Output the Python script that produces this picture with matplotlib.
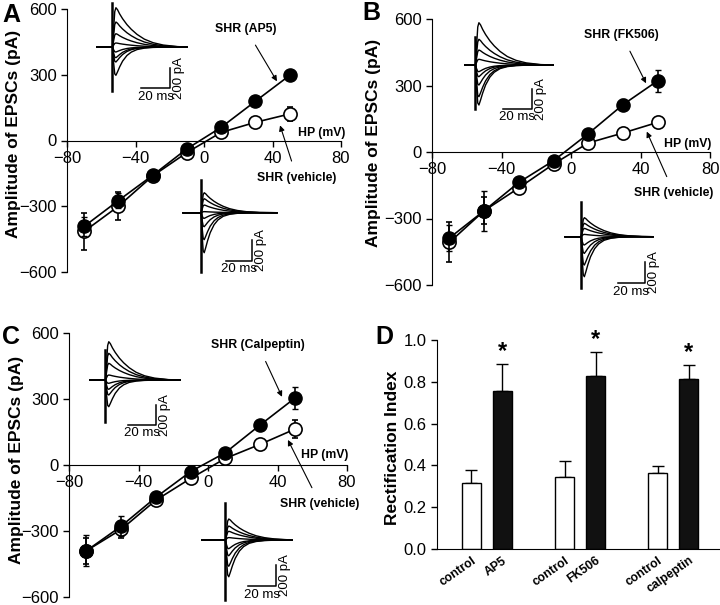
import matplotlib
matplotlib.use('Agg')
import matplotlib.pyplot as plt
import numpy as np

plt.rcParams['font.family'] = ['Liberation Sans', 'DejaVu Sans']

W, H = 720, 605

# holding potentials (mV)
hp = [-70, -50, -30, -10, 10, 30, 50]

# panel A: SHR (AP5) filled, SHR (vehicle) open
a_drug = [-392, -274, -159, -38, 60, 179, 297]
a_drug_err = [45, 35, 20, 15, 12, 12, 12]
a_veh = [-415, -300, -162, -55, 37, 83, 121]
a_veh_err = [85, 65, 22, 15, 12, 15, 30]

# panel B: SHR (FK506) / SHR (vehicle)
b_drug = [-388, -265, -137, -39, 83, 214, 322]
b_drug_err = [60, 90, 20, 15, 15, 25, 50]
b_veh = [-408, -265, -162, -54, 41, 86, 134]
b_veh_err = [90, 60, 25, 15, 12, 12, 15]

# panel C: SHR (Calpeptin) / SHR (vehicle)
c_drug = [-390, -278, -147, -30, 56, 182, 304]
c_drug_err = [70, 45, 20, 12, 12, 15, 50]
c_veh = [-390, -293, -160, -61, 30, 94, 163]
c_veh_err = [60, 40, 20, 12, 10, 12, 40]

# panel D: rectification index
d_labels = ['control', 'AP5', 'control', 'FK506', 'control', 'calpeptin']
d_values = [0.317, 0.756, 0.343, 0.828, 0.365, 0.812]
d_err = [0.061, 0.129, 0.078, 0.116, 0.034, 0.068]
d_star = [False, True, False, True, False, True]

# EPSC trace template (ms, normalised amplitude)
tmpl_t = [0, 0.8, 1.6, 2.4, 3.5, 5, 7, 10, 13, 17, 22, 28, 35, 45]
tmpl_out = [0, 0.45, 0.9, 1.0, 0.95, 0.84, 0.72, 0.57, 0.45, 0.32, 0.2, 0.11, 0.05, 0.01]
tmpl_in = [0, 0.55, 0.95, 1.0, 0.88, 0.7, 0.5, 0.3, 0.18, 0.09, 0.04, 0.015, 0.005, 0]

# trace peaks (pA) for each inset
pk_a_top = [393, 250, 133, 40, -50, -107, -150, -283]
pk_a_bot = [190, 133, 73, 10, -54, -133, -257, -381]
pk_b_top = [423, 257, 150, 57, -67, -117, -200, -317, -400]
pk_b_bot = [181, 127, 79, 22, -79, -159, -270, -381]
pk_c_top = [383, 267, 167, 50, -33, -93, -150, -267]
pk_c_bot = [200, 133, 83, 23, -83, -150, -250, -350]

# stimulus artifact extent (pA)
art_a_top = [440, -440]
art_a_bot = [311, -565]
art_b_top = [280, -440]
art_b_bot = [333, -486]
art_c_top = [300, -420]
art_c_bot = [350, -570]


def px_rect(l, t, r, b):
    return [l / W, 1 - b / H, (r - l) / W, (b - t) / H]


fig = plt.figure(figsize=(W / 100, H / 100), dpi=100)


def iv_panel(rect, drug, drug_err, veh, veh_err, drug_name, notes, ylab_xy):
    ax = fig.add_axes(rect)
    ax.errorbar(hp, veh, yerr=veh_err, fmt='-o', color='k', mfc='white', mec='k',
                ms=9.5, mew=1.2, lw=1.2, capsize=2.5, elinewidth=1.2, zorder=2)
    ax.errorbar(hp, drug, yerr=drug_err, fmt='-o', color='k', mfc='k', mec='k',
                ms=9.5, lw=1.2, capsize=2.5, elinewidth=1.2, zorder=3)
    ax.set_xlim(-80, 80)
    ax.set_ylim(-600, 600)
    ax.spines['top'].set_visible(False)
    ax.spines['right'].set_visible(False)
    ax.spines['bottom'].set_position(('data', 0))
    ax.set_xticks([-80, -40, 0, 40, 80])
    ax.set_yticks([-600, -300, 0, 300, 600])
    ax.tick_params(labelsize=12, length=4, width=1)
    ax.set_ylabel('Amplitude of EPSCs (pA)', fontsize=12.5, fontweight='bold')
    ax.yaxis.set_label_coords(*ylab_xy)
    for txt, xy, xyt in [(drug_name, notes[0], notes[1]), ('SHR (vehicle)', notes[2], notes[3])]:
        ax.annotate(txt, xy=xy, xytext=xyt, ha='center', va='center', fontsize=8.8,
                    fontweight='bold',
                    arrowprops=dict(arrowstyle='-|>', color='k', lw=0.8,
                                    mutation_scale=8, shrinkA=6, shrinkB=0))
    ax.text(notes[4][0], notes[4][1], 'HP (mV)', ha='center', va='center',
            fontsize=8.8, fontweight='bold')
    return ax


def inset(x_art, y_base, ms_px, pa_px, t_lim, peaks, art, bar_t0, bar_a0):
    t0, t1, a0, a1 = -20, 65, -650, 650
    ax = fig.add_axes(px_rect(x_art + t0 * ms_px, y_base - a1 * pa_px,
                              x_art + t1 * ms_px, y_base - a0 * pa_px))
    ax.set_xlim(t0, t1)
    ax.set_ylim(a0, a1)
    ax.axis('off')
    for p in peaks:
        shape = tmpl_out if p > 0 else tmpl_in
        t = [t_lim[0]] + [v + 0.3 for v in tmpl_t] + [t_lim[1]]
        y = [0] + [p * s for s in shape] + [0]
        ax.plot(t, y, color='k', lw=1.0, clip_on=False)
    ax.plot([0.3, 0.3], art, color='k', lw=1.8, clip_on=False)
    # scale bars 20 ms / 200 pA
    ax.plot([bar_t0, bar_t0 + 20, bar_t0 + 20], [bar_a0, bar_a0, bar_a0 + 200],
            color='k', lw=1.1, clip_on=False)
    ax.text(bar_t0 + 10, bar_a0 - 25, '20 ms', ha='center', va='top', fontsize=9.5)
    ax.text(bar_t0 + 22, bar_a0 + 100, '200 pA', ha='left', va='center',
            rotation=90, fontsize=9.5)
    return ax


# panel A
iv_panel(px_rect(67, 9, 341, 272), a_drug, a_drug_err, a_veh, a_veh_err, 'SHR (AP5)',
         [(42.6, 270), (24.5, 508), (44.4, 69), (54.3, -170), (69, 32)], (-0.168, 0.525))
inset(112, 47, 1.45, 0.1, (-10.3, 51.7), pk_a_top, art_a_top, 20, -410)
inset(200.7, 212.7, 1.3, 0.105, (-13.6, 58.7), pk_a_bot, art_a_bot, 19.5, -457)

# panel B
iv_panel(px_rect(432, 19, 710, 285), b_drug, b_drug_err, b_veh, b_veh_err, 'SHR (FK506)',
         [(43.2, 310), (29.2, 528), (43.6, 92), (59.3, -185), (67.3, 36)], (-0.183, 0.535))
inset(475, 65, 1.45, 0.1, (-6.9, 53.8), pk_b_top, art_b_top, 19.3, -440)
inset(580.7, 236.7, 1.35, 0.105, (-11.6, 53.6), pk_b_bot, art_b_bot, 27.6, -441)

# panel C
iv_panel(px_rect(69, 333, 347, 597), c_drug, c_drug_err, c_veh, c_veh_err, 'SHR (Calpeptin)',
         [(42.6, 310), (28.8, 545), (46, 114), (64.5, -177), (67.3, 45)], (-0.162, 0.52))
inset(105, 380, 1.4, 0.1, (-10.7, 53.6), pk_c_top, art_c_top, 16.4, -450)
inset(225, 540, 1.4, 0.105, (-16.4, 47.9), pk_c_bot, art_c_bot, 16.4, -438)

# panel D
axd = fig.add_axes(px_rect(437, 340, 719, 549))
xpos = [0, 1, 3, 4, 6, 7]
colors = ['white', '#111111'] * 3
axd.bar(xpos, d_values, width=0.62, color=colors, edgecolor='k', lw=1.0, zorder=2)
axd.errorbar(xpos, d_values, yerr=[[0] * 6, d_err], fmt='none', ecolor='k',
             elinewidth=1.0, capsize=4, capthick=1.0, zorder=1)
for x, v, e, s in zip(xpos, d_values, d_err, d_star):
    if s:
        axd.text(x, v + e + 0.005, '*', ha='center', va='bottom', fontsize=17,
                 fontweight='bold')
axd.set_xlim(-1.11, 7.98)
axd.set_ylim(0, 1.0)
axd.set_yticks([0, 0.2, 0.4, 0.6, 0.8, 1.0])
axd.set_yticklabels(['%.1f' % v for v in [0, 0.2, 0.4, 0.6, 0.8, 1.0]])
axd.set_xticks(xpos)
axd.set_xticklabels(d_labels, rotation=35, ha='right', va='top', rotation_mode='anchor',
                    fontsize=8.8, fontweight='bold')
axd.tick_params(axis='x', length=0, pad=4)
axd.tick_params(axis='y', labelsize=12, length=4, width=1)
axd.spines['top'].set_visible(False)
axd.spines['right'].set_visible(False)
axd.set_ylabel('Rectification Index', fontsize=12.5, fontweight='bold')
axd.yaxis.set_label_coords(-0.131, 0.483)

# panel letters
for lab, x, y in [('A', 2, 3), ('B', 362, 1), ('C', 2, 325), ('D', 375, 325)]:
    fig.text(x / W, 1 - y / H, lab, ha='left', va='top', fontsize=18, fontweight='bold')

fig.savefig('out.png', dpi=100)
